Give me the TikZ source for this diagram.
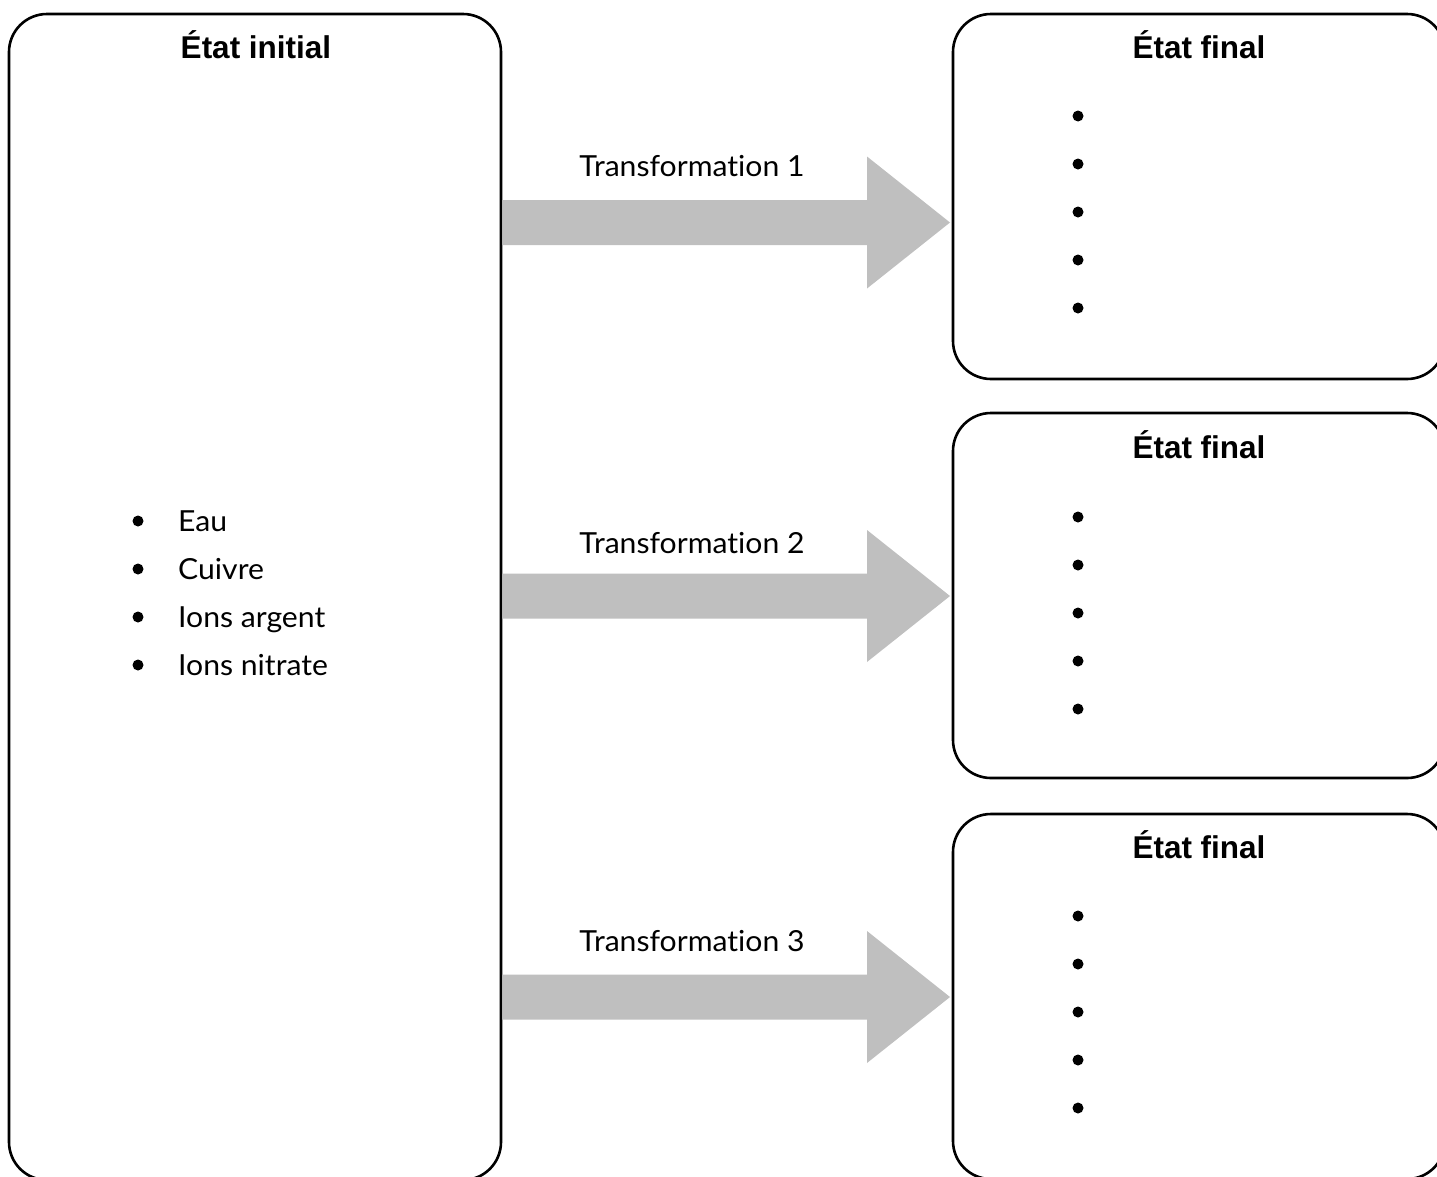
\documentclass[tikz,border=0pt]{standalone}
\usepackage{fontspec}
\setmainfont{Lato}[Ligatures=CommonOff, FakeStretch=1.04]
\newfontfamily\titlefont{Liberation Sans}[BoldFont={Liberation Sans Bold}]
\usetikzlibrary{calc}
\definecolor{arrowgray}{RGB}{191,191,191}
\tikzset{
  statebox/.style={draw=black, line width=2.6pt, rounded corners=38pt, fill=none, inner sep=0pt},
  boxtitle/.style={anchor=base, inner sep=0pt, font=\titlefont\bfseries\fontsize{31.5}{36}\selectfont},
  bodytext/.style={anchor=base west, inner sep=0pt, font=\fontsize{29}{34}\selectfont},
  translabel/.style={anchor=base, inner sep=0pt, font=\fontsize{29}{34}\selectfont},
  bulletdot/.style={fill=black, draw=none},
  blockarrow/.style={fill=arrowgray, draw=none}
}
\begin{document}
\begin{tikzpicture}[x=1pt, y=-1pt]
\useasboundingbox (0,0) rectangle (1437,1176);
\clip (0,0) rectangle (1437,1176);

% boxes
\node[statebox, minimum width=492pt, minimum height=1166pt] (init) at (255,597) {};
\node[statebox, minimum width=492pt, minimum height=365pt] (f1) at (1199,196.5) {};
\node[statebox, minimum width=492pt, minimum height=365pt] (f2) at (1199,595.5) {};
\node[statebox, minimum width=492pt, minimum height=365pt] (f3) at (1199,996.5) {};

% titles
\node[boxtitle] (tinit) at (256,58) {État initial};
\node[boxtitle] (tf1) at (1199,58) {État final};
\node[boxtitle] (tf2) at (1199,458) {État final};
\node[boxtitle] (tf3) at (1199,858) {État final};

% initial state list
\foreach \i/\txt in {0/Eau, 1/Cuivre, 2/Ions argent, 3/Ions nitrate}{
  \fill[bulletdot] (138,521+48*\i) circle (5.5pt);
  \node[bodytext] (item\i) at (178,531+48*\i) {\txt};
}

% final state bullets
\foreach \k/\ystart in {1/116, 2/517, 3/916}{
  \foreach \i in {0,...,4}{
    \fill[bulletdot] (1078,\ystart+48*\i) circle (5.5pt);
  }
}

% arrow tips
\coordinate (a1) at (950,222.5);
\coordinate (a2) at (950,596);
\coordinate (a3) at (950,997);

\foreach \a in {a1,a2,a3}{
  \fill[blockarrow] ($(init.east |- \a)+(0,-22.5)$) -- ($(\a)+(-83,-22.5)$) -- ($(\a)+(-83,-66)$) -- (\a)
    -- ($(\a)+(-83,66)$) -- ($(\a)+(-83,22.5)$) -- ($(init.east |- \a)+(0,22.5)$) -- cycle;
}

% labels
\node[translabel] (l1) at (692,176) {Transformation 1};
\node[translabel] (l2) at (692,553) {Transformation 2};
\node[translabel] (l3) at (692,951) {Transformation 3};
\end{tikzpicture}
\end{document}
